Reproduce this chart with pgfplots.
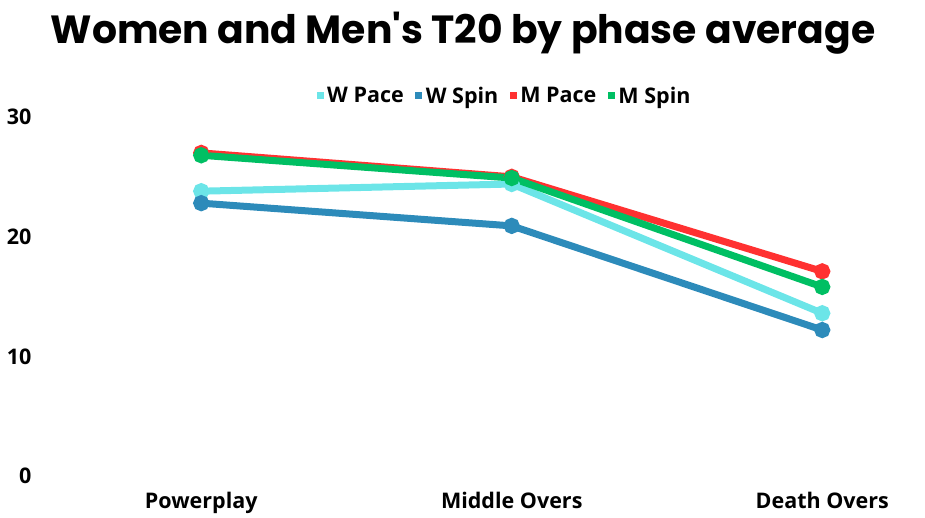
\documentclass[border=0pt]{standalone}
\usepackage{pgfplots}
\pgfplotsset{compat=1.18}
\usepackage{fontspec}
\setmainfont{Open Sans}
\newfontfamily\titlefont{Poppins}
\definecolor{wpace}{HTML}{6CE5E8}
\definecolor{wspin}{HTML}{2D8BBA}
\definecolor{mpace}{HTML}{FF3131}
\definecolor{mspin}{HTML}{00BF63}
\begin{document}
\begin{tikzpicture}[x=1pt,y=1pt]
\useasboundingbox (-46,-42) rectangle (879,476);
\begin{axis}[
  at={(0,0)}, anchor=south west,
  scale only axis, width=879pt, height=359pt,
  xmin=-0.5, xmax=2.331, ymin=0, ymax=30,
  axis line style={draw=none}, tick style={draw=none},
  xtick={0,1,2}, xticklabels={Powerplay,Middle Overs,Death Overs},
  ytick={0,10,20,30},
  ticklabel style={font=\fontsize{21.5}{25}\selectfont\bfseries},
  /pgf/number format/assume math mode=true,
  xticklabel style={yshift=-13pt},
  yticklabel style={xshift=-11pt},
  clip=false,
  legend columns=4,
  legend style={draw=none, fill=none, at={(0.522,1.0585)}, anchor=center,
    font=\fontsize{21.5}{25}\selectfont\bfseries,
    /tikz/every odd column/.append style={column sep=2pt},
    /tikz/every even column/.append style={column sep=10pt}},
  legend image code/.code={\fill[#1, line width=0pt] (10pt,-3pt) rectangle (16pt,3pt);},
  every axis plot/.append style={line width=7pt, mark=*, mark size=4.5pt},
]
\addplot[color=wpace] coordinates {(0,23.8) (1,24.4) (2,13.6)};
\addlegendentry{W Pace}
\addplot[color=wspin] coordinates {(0,22.8) (1,20.9) (2,12.2)};
\addlegendentry{W Spin}
\addplot[color=mpace] coordinates {(0,27.0) (1,25.0) (2,17.1)};
\addlegendentry{M Pace}
\addplot[color=mspin] coordinates {(0,26.8) (1,24.9) (2,15.8)};
\addlegendentry{M Spin}
\end{axis}
\node[anchor=base, font=\titlefont\bfseries\fontsize{39.3}{46}\selectfont] at (417,432) {Women and Men's T20 by phase average};
\end{tikzpicture}
\end{document}
